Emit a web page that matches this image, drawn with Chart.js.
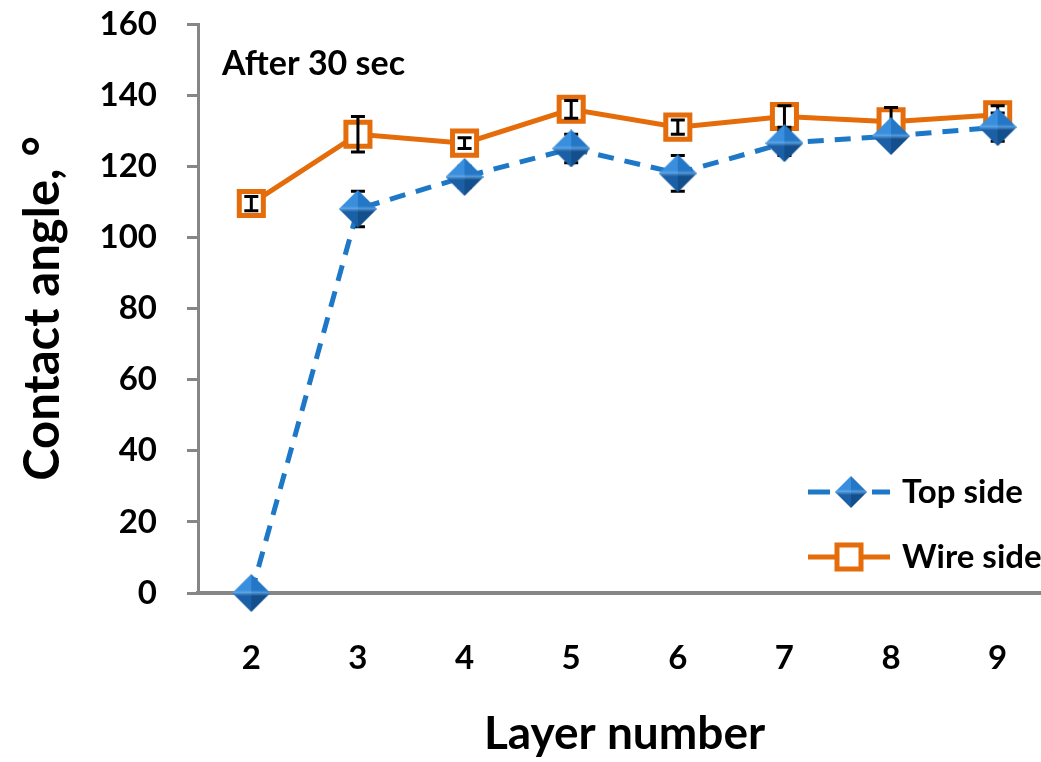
<!DOCTYPE html>
<html>
<head>
<meta charset="utf-8">
<title>Contact angle vs layer number</title>
<script src="https://cdn.jsdelivr.net/npm/chart.js@4.4.0/dist/chart.umd.min.js"></script>
<style>
  html, body { margin: 0; padding: 0; background: #fff; overflow: hidden; }
</style>
</head>
<body>
<canvas id="angleChart" width="1060" height="762"></canvas>
<script>
// layer count on x, contact angle (deg) after 30 s on y
const layers = ['2', '3', '4', '5', '6', '7', '8', '9'];
const topSide = [0, 108, 117, 125, 118, 126.5, 128.5, 131];
const topSideErr = [0, 5, 3, 4, 5, 3.5, 2, 4];
const wireSide = [109.5, 129, 126.5, 136, 131, 134, 132.5, 134.5];
const wireSideErr = [2, 5, 1.5, 2.5, 2, 3, 4, 2.5];
const yMin = 0, yMax = 160, yStep = 20;

const BLUE = '#1E78C8';
const ORANGE = '#E46C0A';
const AXIS_GREY = '#868686';
const FONT = 'Lato, "Open Sans", sans-serif';

// shaded diamond marker, drawn once and reused as a pointStyle image
function makeDiamond(r) {
    const c = document.createElement('canvas');
    c.width = c.height = r * 2;
    const g = c.getContext('2d');
    const facets = [
        [[0, r], [r, 0], [r, r], '#3a8ede'],
        [[r, 0], [2 * r, r], [r, r], '#2476c6'],
        [[0, r], [r, r], [r, 2 * r], '#1b60a6'],
        [[r, r], [2 * r, r], [r, 2 * r], '#134f8c']
    ];
    facets.forEach(f => {
        g.beginPath();
        g.moveTo(f[0][0], f[0][1]);
        g.lineTo(f[1][0], f[1][1]);
        g.lineTo(f[2][0], f[2][1]);
        g.closePath();
        g.fillStyle = f[3];
        g.fill();
    });
    // highlight across the middle
    const hl = g.createLinearGradient(0, r - 3, 0, r + 3);
    hl.addColorStop(0, 'rgba(120,185,240,0)');
    hl.addColorStop(0.5, 'rgba(120,185,240,0.6)');
    hl.addColorStop(1, 'rgba(120,185,240,0)');
    g.beginPath();
    g.moveTo(0, r); g.lineTo(r, 0); g.lineTo(2 * r, r); g.lineTo(r, 2 * r); g.closePath();
    g.fillStyle = hl;
    g.fill();
    return c;
}
const diamond = makeDiamond(19);
const legendDiamond = makeDiamond(16);

function drawErrorBars(chart, idx, errs) {
    const ctx = chart.ctx;
    const meta = chart.getDatasetMeta(idx);
    const yScale = chart.scales.y;
    const values = chart.data.datasets[idx].data;
    ctx.save();
    ctx.strokeStyle = '#000';
    ctx.lineWidth = 3;
    meta.data.forEach((pt, i) => {
        if (!errs[i]) return;
        const hi = yScale.getPixelForValue(values[i] + errs[i]);
        const lo = yScale.getPixelForValue(values[i] - errs[i]);
        ctx.beginPath();
        ctx.moveTo(pt.x, hi); ctx.lineTo(pt.x, lo);
        ctx.moveTo(pt.x - 7, hi); ctx.lineTo(pt.x + 7, hi);
        ctx.moveTo(pt.x - 7, lo); ctx.lineTo(pt.x + 7, lo);
        ctx.stroke();
    });
    ctx.restore();
}

const errorBars = {
    id: 'errorBars',
    // top side bars sit behind its diamonds, wire side bars over the open squares
    beforeDatasetDraw(chart, args) {
        if (args.index === 0) drawErrorBars(chart, 0, topSideErr);
    },
    afterDatasetDraw(chart, args) {
        if (args.index === 1) drawErrorBars(chart, 1, wireSideErr);
    }
};

const annotations = {
    id: 'annotations',
    afterDraw(chart) {
        const ctx = chart.ctx;
        ctx.save();
        ctx.fillStyle = '#000';
        ctx.textBaseline = 'middle';
        ctx.font = 'bold 34px ' + FONT;
        ctx.fillText('After 30 sec', 222, 64);

        // legend
        ctx.font = 'bold 33px ' + FONT;
        ctx.lineWidth = 5;
        ctx.strokeStyle = BLUE;
        ctx.setLineDash([22, 42]);
        ctx.beginPath();
        ctx.moveTo(808, 492); ctx.lineTo(890, 492);
        ctx.stroke();
        ctx.setLineDash([]);
        ctx.drawImage(legendDiamond, 851 - 16, 492 - 16);
        ctx.fillText('Top side', 902, 492);

        ctx.strokeStyle = ORANGE;
        ctx.beginPath();
        ctx.moveTo(808, 557); ctx.lineTo(890, 557);
        ctx.stroke();
        ctx.fillStyle = '#fff';
        ctx.fillRect(837, 545, 24, 24);
        ctx.strokeRect(837, 545, 24, 24);
        ctx.fillStyle = '#000';
        ctx.fillText('Wire side', 902, 557);
        ctx.restore();
    }
};

new Chart(document.getElementById('angleChart'), {
    type: 'line',
    data: {
        labels: layers,
        datasets: [
            {
                label: 'Top side',
                data: topSide,
                borderColor: BLUE,
                borderWidth: 5,
                borderDash: [16, 11],
                pointStyle: diamond,
                pointRadius: 19,
                tension: 0,
                fill: false,
                clip: false
            },
            {
                label: 'Wire side',
                data: wireSide,
                borderColor: ORANGE,
                borderWidth: 5,
                pointStyle: 'rect',
                pointRadius: 17,
                pointBorderWidth: 5,
                pointBorderColor: ORANGE,
                pointBackgroundColor: '#fff',
                tension: 0,
                fill: false,
                clip: false
            }
        ]
    },
    options: {
        responsive: false,
        animation: false,
        devicePixelRatio: 1,
        layout: { autoPadding: false, padding: { top: 24, right: 9, left: 0, bottom: 0 } },
        plugins: {
            legend: { display: false },
            tooltip: { enabled: false }
        },
        scales: {
            x: {
                type: 'category',
                offset: true,
                grid: { display: false, drawTicks: false },
                border: { display: true, color: AXIS_GREY, width: 4 },
                ticks: { color: '#000', font: { family: FONT, size: 33, weight: 'bold' }, padding: 46 },
                title: {
                    display: true,
                    text: 'Layer number',
                    color: '#000',
                    font: { family: FONT, size: 46, weight: 'bold' },
                    padding: { top: 0, bottom: 0 }
                },
                // fixed axis band; label padding shouldn't shrink the plot sideways
                afterFit(scale) {
                    scale.height = 169;
                    scale.paddingLeft = 0;
                    scale.paddingRight = 0;
                }
            },
            y: {
                min: yMin,
                max: yMax,
                ticks: {
                    stepSize: yStep,
                    color: '#000',
                    font: { family: FONT, size: 33, weight: 'bold' },
                    padding: 30
                },
                grid: { drawOnChartArea: false, drawTicks: true, tickLength: 11, color: AXIS_GREY, lineWidth: 3 },
                border: { display: true, color: AXIS_GREY, width: 3 },
                title: {
                    display: true,
                    text: 'Contact angle, °',
                    color: '#000',
                    font: { family: FONT, size: 49, weight: 'bold' },
                    padding: { top: 14, bottom: 0 }
                },
                afterFit(scale) {
                    scale.width = 198;
                    scale.paddingTop = 0;
                    scale.paddingBottom = 0;
                }
            }
        }
    },
    plugins: [errorBars, annotations]
});
</script>
</body>
</html>
